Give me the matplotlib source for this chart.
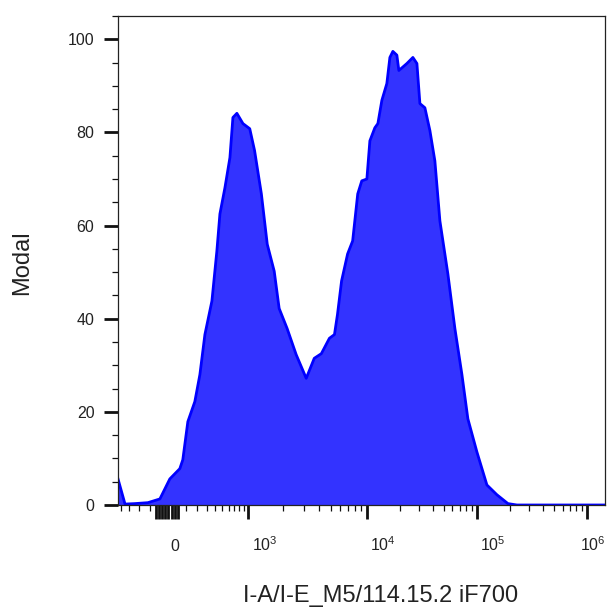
import numpy as np
import matplotlib
matplotlib.use('Agg')
import matplotlib.pyplot as plt
import matplotlib.transforms as mtransforms

plt.rcParams['font.family'] = ['Liberation Sans', 'DejaVu Sans']
plt.rcParams['mathtext.fontset'] = 'custom'
plt.rcParams['mathtext.rm'] = 'Liberation Sans'
plt.rcParams['mathtext.it'] = 'Liberation Sans'

# histogram outline (fluorescence, % of max)
fluor = [-540, -450, -339, -215, -115, -38, 43, 69, 114, 179, 229, 282, 363,
         426, 468, 542, 624, 677, 753, 882, 1039, 1145, 1311, 1472, 1687,
         1858, 2168, 2581, 3133, 3656, 4188, 4887, 5383, 5702, 6166, 6918,
         7621, 8397, 9074, 10000, 10650, 11820, 12590, 13690, 15190, 16190,
         17230, 18730, 19540, 23100, 26200, 28500, 30340, 33670, 37400,
         41500, 46100, 54500, 63100, 73100, 82800, 100000, 123300, 152000,
         191500, 231000, 500000, 1460000]
modal = [5.6, 0.2, 0.3, 0.5, 1.3, 5.6, 7.8, 9.7, 17.9, 22.2, 28.0, 36.6, 43.8,
         54.5, 62.5, 68.1, 74.6, 83.2, 84.1, 81.9, 80.8, 76.1, 66.8, 56.0,
         50.2, 42.2, 37.9, 32.3, 27.2, 31.5, 32.5, 35.8, 36.6, 40.9, 48.1,
         53.9, 56.7, 66.8, 69.6, 70.0, 78.2, 81.0, 81.9, 86.9, 90.5, 96.1,
         97.4, 96.6, 93.3, 94.8, 96.1, 94.8, 86.2, 85.3, 80.4, 73.9, 61.0,
         49.6, 37.9, 28.0, 18.5, 11.4, 4.3, 2.2, 0.3, 0.0, 0.0, 0.0]

xtick_major = [0, 1e3, 1e4, 1e5, 1e6]
xtick_labels = ['0', '$10^3$', '$10^4$', '$10^5$', '$10^6$']
yticks = [0, 20, 40, 60, 80, 100]

# biexponential-like display scale
W = 361.0
anchor_x = np.array([-2000, 0, 1e3, 1e4, 1e5, 1e6, 1e7])
anchor_u = np.arcsinh(anchor_x / W)
anchor_p = np.array([60, 175, 248, 367, 477, 587, 697], dtype=float)


def fwd(x):
    u = np.arcsinh(np.asarray(x, dtype=float) / W)
    return np.interp(u, anchor_u, anchor_p)


def inv(p):
    u = np.interp(np.asarray(p, dtype=float), anchor_p, anchor_u)
    return W * np.sinh(u)


fig = plt.figure(figsize=(6.09, 6.08), dpi=100)
ax = fig.add_axes([118 / 609, 1 - 505 / 608, 487 / 609, 489 / 608])
ax.set_xscale('function', functions=(fwd, inv))

ax.fill_between(fluor, modal, 0, color='#3333ff', lw=0)
ax.plot(fluor, modal, color='#0000ff', lw=2)

ax.set_xlim(-540, 1.46e6)
ax.set_ylim(0, 105)

# ticks
near_zero = [-150, -125, -100, -75, -50, -25, 25]
majors = sorted(xtick_major + near_zero)
labels = []
for v in majors:
    labels.append(xtick_labels[xtick_major.index(v)] if v in xtick_major else '')
ax.set_xticks(majors)
ax.set_xticklabels(labels)
minors = [-500, -400, -300, -200, 100, 200, 300, 400, 500, 600, 700, 800, 900]
for d in [1e3, 1e4, 1e5]:
    minors += [k * d for k in range(2, 10)]
ax.set_xticks(minors, minor=True)

ax.set_yticks(yticks)
ax.set_yticks(np.arange(0, 106, 5), minor=True)

ax.tick_params(axis='both', which='major', length=10, width=2, color='#111111',
               labelsize=11.5, labelcolor='#222222')
ax.tick_params(axis='both', which='minor', length=4.5, width=0.9, color='#111111')
ax.tick_params(axis='x', which='major', pad=23)
ax.tick_params(axis='y', which='major', pad=7)

offsets = {'$10^3$': 4, '$10^4$': 3, '$10^5$': 3, '$10^6$': -7}
for lab in ax.get_xticklabels():
    lab.set_va('baseline')
    t = lab.get_text()
    if t in offsets:
        lab.set_ha('left')
        shift = mtransforms.ScaledTranslation(offsets[t] / 100, 0, fig.dpi_scale_trans)
        lab.set_transform(lab.get_transform() + shift)

for s in ax.spines.values():
    s.set_linewidth(0.9)
    s.set_color('#222222')
    s.set_zorder(5)

fig.text(22 / 609, 1 - 263 / 608, 'Modal', rotation=90, ha='center', va='center',
         fontsize=17, color='#222222')
fig.text(381 / 609, 1 - 596 / 608, 'I-A/I-E_M5/114.15.2 iF700', ha='center',
         va='center', fontsize=17, color='#222222')

fig.savefig('out.png', dpi=100)
